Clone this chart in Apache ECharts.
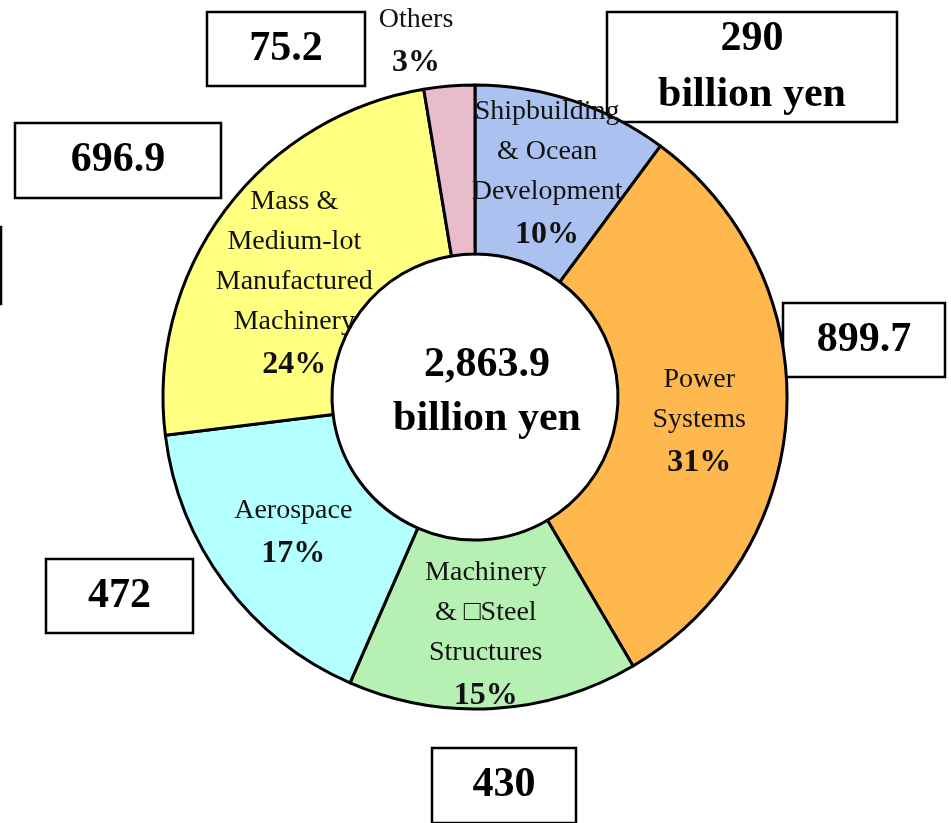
<!DOCTYPE html>
<html>
<head>
<meta charset="utf-8">
<script src="https://cdn.jsdelivr.net/npm/echarts@6/dist/echarts.min.js"></script>
<style>
html,body{margin:0;padding:0;background:#fff;}
#chart{width:951px;height:823px;}
</style>
</head>
<body>
<div id="chart"></div>
<script>
// ---- data ----
var categories = ['Shipbuilding\n& Ocean\nDevelopment', 'Power\nSystems', 'Machinery\n& \u25A1Steel\nStructures', 'Aerospace', 'Mass &\nMedium-lot\nManufactured\nMachinery', 'Others'];
var values = [290, 899.7, 430, 472, 696.9, 75.2];
var percents = [10, 31, 15, 17, 24, 3];
var boxTexts = ['290\nbillion yen', '899.7', '430', '472', '696.9', '75.2'];
var totalText = ['2,863.9', 'billion yen'];
var colors = ['#abc2f1', '#ffb84e', '#b6f0b2', '#b4ffff', '#ffff80', '#e8bccb'];

var FONT = "'Liberation Serif','Times New Roman',serif";

var chart = echarts.init(document.getElementById('chart'), null, {renderer: 'canvas'});

var data = categories.map(function (c, i) {
  return {name: c, value: values[i], itemStyle: {color: colors[i]}};
});

// label adjustments (text placement only)
var labelShift = [
  {dx: 0, dy: -3}, {dx: -6, dy: 14}, {dx: -3, dy: 9}, {dx: 3, dy: -1}, {dx: 4, dy: 26}, {dx: -40, dy: -125}
];

function box(x, y, w, h, txt) {
  return {
    type: 'group',
    children: [
      {type: 'rect', shape: {x: x, y: y, width: w, height: h},
       style: {fill: '#fff', stroke: '#000', lineWidth: 2.5}},
      {type: 'text', x: x + w / 2, y: y + h / 2,
       style: {text: txt, font: 'bold 42px ' + FONT, fill: '#000',
               textAlign: 'center', textVerticalAlign: 'middle', lineHeight: 56}}
    ]
  };
}

var option = {
  backgroundColor: '#fff',
  animation: false,
  series: [{
    type: 'pie',
    center: [475, 397],
    radius: [143, 312],
    startAngle: 90,
    clockwise: true,
    avoidLabelOverlap: false,
    silent: true,
    data: data,
    itemStyle: {borderColor: '#000', borderWidth: 3},
    label: {
      show: true,
      position: 'inside',
      fontFamily: FONT,
      color: '#111',
      formatter: function (p) {
        var lines = p.name.split('\n').map(function (l) { return '{n|' + l + '}'; });
        return lines.join('\n') + '\n{p|' + percents[p.dataIndex] + '%}';
      },
      rich: {
        n: {fontFamily: FONT, fontSize: 28, lineHeight: 40, color: '#111'},
        p: {fontFamily: FONT, fontSize: 32, fontWeight: 'bold', lineHeight: 46, color: '#111'}
      }
    },
    labelLine: {show: false},
    labelLayout: function (params) {
      return labelShift[params.dataIndex];
    },
    emphasis: {disabled: true}
  }],
  graphic: [
    {type: 'text', x: 487, y: 392, style: {text: totalText.join('\n'), font: 'bold 42px ' + FONT,
      fill: '#000', textAlign: 'center', textVerticalAlign: 'middle', lineHeight: 54}},
    box(607, 12, 290, 110, boxTexts[0]),
    box(783, 303, 162, 74, boxTexts[1]),
    box(432, 748, 144, 75, boxTexts[2]),
    box(46, 559, 147, 74, boxTexts[3]),
    box(15, 123, 206, 75, boxTexts[4]),
    box(207, 12, 158, 74, boxTexts[5]),
    {type: 'rect', shape: {x: -200, y: 227, width: 201, height: 77},
     style: {fill: '#fff', stroke: '#000', lineWidth: 2.5}}
  ]
};
chart.setOption(option);
</script>
</body>
</html>
